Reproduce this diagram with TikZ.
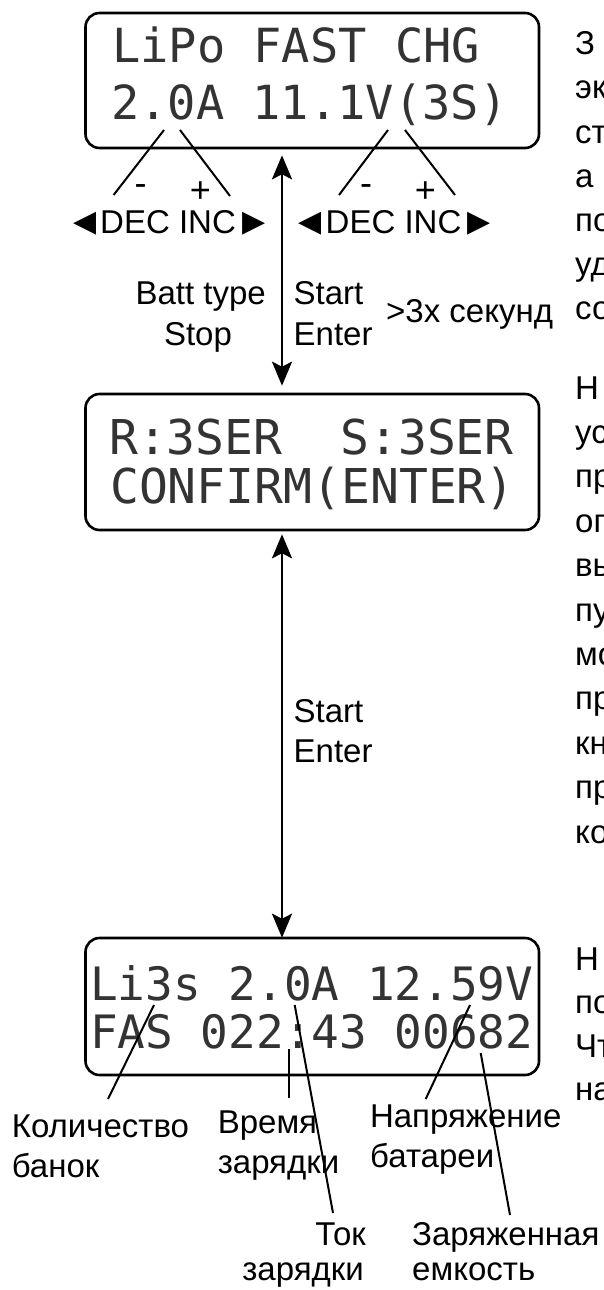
\documentclass[tikz,border=0pt]{standalone}
\usepackage{fontspec}
\setmainfont{Liberation Sans}
\newfontfamily\lcdfont{DejaVu Sans Mono}
\newfontfamily\symfont{DejaVu Sans}
\usetikzlibrary{arrows.meta}

\tikzset{
  screen/.style={draw, line width=2.6pt, rounded corners=14pt, minimum width=453.5pt, inner sep=0pt},
  lcd/.style={anchor=base west, inner sep=0pt, text=black!80},
  lcdA/.style={lcd, font=\lcdfont\fontsize{47}{47}\selectfont},
  lcdB/.style={lcd, font=\lcdfont\fontsize{48}{48}\selectfont},
  lcdC/.style={lcd, font=\lcdfont\fontsize{46}{46}\selectfont},
  lbl/.style={anchor=base west, inner sep=0pt, font=\fontsize{33}{39}\selectfont},
  lead/.style={line width=2pt},
  flow/.style={line width=2.6pt, {Stealth[length=24pt,width=20pt,inset=5pt]}-{Stealth[length=24pt,width=20pt,inset=5pt]}},
  tri/.style={inner sep=0pt, font=\symfont\fontsize{30}{30}\selectfont},
  sign/.style={inner sep=0pt, font=\fontsize{36}{36}\selectfont},
}

\begin{document}
\begin{tikzpicture}[x=1pt,y=-1pt]
\clip (0,0) rectangle (604,1290);
\fill[white] (0,0) rectangle (604,1290);

% the three charger screens
\node[screen, minimum height=135pt] (scr1) at (312.25,80.5) {};
\node[screen, minimum height=136pt] (scr2) at (312.25,462) {};
\node[screen, minimum height=137pt] (scr3) at (312.25,1006.5) {};

% screen contents
\node[lcdA] (l11) at (112,63) {LiPo FAST CHG};
\node[lcdA] (l12) at (111,119) {2.0A 11.1V(3S)};
\node[lcdB] (l21) at (109,454) {R:3SER\ \ S:3SER};
\node[lcdB] (l22) at (110,503) {CONFIRM(ENTER)};
\node[lcdC] (l31) at (90,1000) {Li3s 2.0A 12.59V};
\node[lcdC] (l32) at (90,1048) {FAS 022:43 00682};

% DEC / INC keys
\node[tri] (tl1) at (85,224) {◀};
\node[lbl] (dec1) at (100,233) {DEC INC};
\node[tri] (tr1) at (254,224) {▶};
\node[tri] (tl2) at (310.5,224) {◀};
\node[lbl] (dec2) at (325.5,233) {DEC INC};
\node[tri] (tr2) at (479,224) {▶};
\node[sign] (m1) at (140.5,190) {-};
\node[sign] (p1) at (200.5,192) {+};
\node[sign] (m2) at (366,190) {-};
\node[sign] (p2) at (425.5,192) {+};

% pointers from the screen to the keys
\coordinate (a1) at (164,130);   \coordinate (a1e) at (113.6,195);
\coordinate (a2) at (180,130);   \coordinate (a2e) at (230,196);
\coordinate (a3) at (388,130);   \coordinate (a3e) at (339,195);
\coordinate (a4) at (405,130);   \coordinate (a4e) at (455,195);
\draw[lead] (a1) -- (a1e);
\draw[lead] (a2) -- (a2e);
\draw[lead] (a3) -- (a3e);
\draw[lead] (a4) -- (a4e);

% transitions between screens
\coordinate (ax) at (282,0);
\draw[flow, shorten <=6pt, shorten >=7pt] (scr1.south -| ax) -- (scr2.north -| ax);
\draw[flow, shorten <=3pt, shorten >=-1pt] (scr2.south -| ax) -- (scr3.north -| ax);

\node[lbl, anchor=base east] (batt) at (266,304) {Batt type};
\node[lbl, anchor=base] (stop) at (198,345) {Stop};
\node[lbl] (start1) at (293.5,304) {Start};
\node[lbl] (enter1) at (293.5,345) {Enter};
\node[lbl] (hold) at (386,322) {>3x секунд};
\node[lbl] (start2) at (293.5,722) {Start};
\node[lbl] (enter2) at (293.5,762) {Enter};

% legend of the charging screen
\node[lbl] (cnt1) at (11.6,1137) {Количество};
\node[lbl] (cnt2) at (11.6,1177) {банок};
\node[lbl] (time1) at (217.6,1133) {Время};
\node[lbl] (time2) at (217.6,1173) {зарядки};
\node[lbl] (volt1) at (369.8,1127) {Напряжение};
\node[lbl] (volt2) at (370,1167) {батареи};
\node[lbl, anchor=base east] (cur1) at (366,1245) {Ток};
\node[lbl, anchor=base east] (cur2) at (364,1280) {зарядки};
\node[lbl] (cap1) at (412,1245) {Заряженная};
\node[lbl] (cap2) at (412,1280) {емкость};

\coordinate (b1) at (154,1005);   \coordinate (b1e) at (108,1099);
\coordinate (b2) at (289,1049);   \coordinate (b2e) at (289,1098);
\coordinate (b3) at (294.7,1005); \coordinate (b3e) at (333,1213);
\coordinate (b4) at (470,1005);   \coordinate (b4e) at (425.7,1099);
\coordinate (b5) at (480.7,1053); \coordinate (b5e) at (510,1215);
\draw[lead] (b1) -- (b1e);
\draw[lead] (b2) -- (b2e);
\draw[lead] (b3) -- (b3e);
\draw[lead] (b4) -- (b4e);
\draw[lead] (b5) -- (b5e);

% explanatory text column running off the right edge
\foreach \t [count=\i from 0] in {З,эк,ст,а,по,уд,со}
  \node[lbl] (ta\i) at (575,55+44*\i) {\t};
\foreach \t [count=\i from 0] in {Н,ус,пр,оп,вы,пу,мо,пр,кн,пр,ко}
  \node[lbl] (tb\i) at (575,399+44.4*\i) {\t};
\foreach \t [count=\i from 0] in {Н,по,Чт,на}
  \node[lbl] (tc\i) at (575,970+43.5*\i) {\t};
\end{tikzpicture}
\end{document}
